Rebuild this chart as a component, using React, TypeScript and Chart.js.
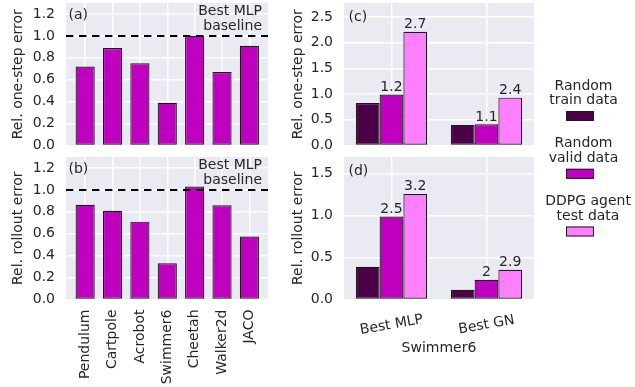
import React, { useEffect, useRef } from "react";
import { Chart, registerables } from "chart.js";
Chart.register(...registerables);

const FONT = "'DejaVu Sans', sans-serif";
const TEXT = "#262626";
const FS = 14;

// ---- data ----
const envs = ["Pendulum", "Cartpole", "Acrobot", "Swimmer6", "Cheetah", "Walker2d", "JACO"];
const oneStepRel = [0.72, 0.89, 0.75, 0.39, 1.0, 0.67, 0.91];
const rolloutRel = [0.865, 0.81, 0.71, 0.33, 1.03, 0.86, 0.575];
const baselineValue = 1.0;
const baselineText = ["Best MLP", "baseline"];

const models = ["Best MLP", "Best GN"];
const seriesNames = [["Random", "train data"], ["Random", "valid data"], ["DDPG agent", "test data"]];
const seriesColors = ["#4c0047", "#bf00bf", "#ff80ff"];
const envColor = "#bf00bf";
const edgeColor = "#1a1a1a";

const swimOneStepTrain = [0.825, 0.4];
const swimOneStepValid = [0.99, 0.415];
const swimOneStepTest = [2.21, 0.93];
const swimOneStepAnnot = [["", ""], ["1.2", "1.1"], ["2.7", "2.4"]];

const swimRolloutTrain = [0.39, 0.115];
const swimRolloutValid = [0.99, 0.235];
const swimRolloutTest = [1.26, 0.355];
const swimRolloutAnnot = [["", ""], ["2.5", "2"], ["3.2", "2.9"]];

// ---- helpers ----
const font = () => ({ family: FONT, size: FS });

const bgPlugin = {
  id: "bg",
  beforeDraw(chart: any) {
    const { ctx, chartArea: a } = chart;
    ctx.save();
    ctx.fillStyle = "#EAEAF2";
    ctx.fillRect(a.left, a.top, a.right - a.left, a.bottom - a.top);
    ctx.restore();
  },
};

function yScale(max: number, step: number, title: string, yWidth: number) {
  return {
    type: "linear",
    min: 0,
    max,
    border: { display: false },
    grid: { color: "#ffffff", lineWidth: 1.5, drawTicks: false },
    ticks: {
      stepSize: step,
      includeBounds: false,
      padding: 11,
      color: TEXT,
      font: font(),
      callback: (v: any) => Number(v).toFixed(1),
    },
    title: {
      display: true,
      text: title,
      color: TEXT,
      font: font(),
      padding: { top: 9.6, bottom: 0 },
    },
    afterFit: (s: any) => {
      s.width = yWidth;
      s.paddingTop = 0;
      s.paddingBottom = 0;
      s.paddingLeft = 0;
      s.paddingRight = 0;
    },
  };
}

function envAnnot(label: string) {
  return {
    id: "envAnnot",
    afterDatasetsDraw(chart: any) {
      const { ctx, chartArea: a, scales } = chart;
      const y = scales.y.getPixelForValue(baselineValue);
      ctx.save();
      ctx.strokeStyle = "#000";
      ctx.lineWidth = 2;
      ctx.setLineDash([7.4, 5.6]);
      ctx.beginPath();
      ctx.moveTo(a.left, y);
      ctx.lineTo(a.right, y);
      ctx.stroke();
      ctx.setLineDash([]);
      ctx.fillStyle = TEXT;
      ctx.font = `${FS}px ${FONT}`;
      ctx.textBaseline = "alphabetic";
      ctx.textAlign = "right";
      ctx.fillText(baselineText[0], a.right - 6, a.top + 11.5);
      ctx.fillText(baselineText[1], a.right - 6, a.top + 27);
      ctx.textAlign = "left";
      ctx.fillText(label, a.left + 2.5, a.top + 15.5);
      ctx.restore();
    },
  };
}

function makeEnvChart(canvas: HTMLCanvasElement, values: number[], yTitle: string, label: string, showX: boolean, pad: any) {
  const xHeight = showX ? 387 - 299.5 - pad.bottom : 0;
  return new Chart(canvas, {
    type: "bar",
    data: {
      datasets: [
        {
          data: values.map((v, i) => ({ x: i, y: v })),
          backgroundColor: envColor,
          borderColor: edgeColor,
          borderWidth: 1.2,
          borderSkipped: false,
          barPercentage: 0.7,
          categoryPercentage: 1,
        } as any,
      ],
    },
    options: {
      responsive: false,
      animation: false,
      layout: { padding: pad },
      plugins: { legend: { display: false }, tooltip: { enabled: false } },
      scales: {
        x: {
          type: "linear",
          min: -0.7,
          max: 6.68,
          offset: false,
          border: { display: false },
          grid: { color: "#ffffff", lineWidth: 1.5, drawTicks: false, offset: false },
          afterBuildTicks: (s: any) => {
            s.ticks = envs.map((_, i) => ({ value: i }));
          },
          ticks: {
            display: showX,
            autoSkip: false,
            minRotation: 90,
            maxRotation: 90,
            padding: 10,
            color: TEXT,
            font: font(),
            callback: (v: any) => envs[Math.round(Number(v))],
          },
          afterFit: (s: any) => {
            s.height = xHeight;
            s.paddingLeft = 0;
            s.paddingRight = 0;
            s.paddingTop = 0;
            s.paddingBottom = 0;
          },
        },
        y: yScale(1.3, 0.2, yTitle, 66),
      } as any,
    },
    plugins: [bgPlugin, envAnnot(label)],
  } as any);
}

function valueLabels(annots: string[][]) {
  return {
    id: "valueLabels",
    afterDatasetsDraw(chart: any) {
      const { ctx } = chart;
      ctx.save();
      ctx.fillStyle = TEXT;
      ctx.font = `${FS}px ${FONT}`;
      ctx.textAlign = "center";
      ctx.textBaseline = "alphabetic";
      chart.data.datasets.forEach((_: any, di: number) => {
        const meta = chart.getDatasetMeta(di);
        meta.data.forEach((el: any, j: number) => {
          const t = annots[di][j];
          if (t) ctx.fillText(t, el.x, el.y - 3.5);
        });
      });
      ctx.restore();
    },
  };
}

function panelLabel(label: string) {
  return {
    id: "panelLabel",
    afterDatasetsDraw(chart: any) {
      const { ctx, chartArea: a } = chart;
      ctx.save();
      ctx.fillStyle = TEXT;
      ctx.font = `${FS}px ${FONT}`;
      ctx.textAlign = "left";
      ctx.textBaseline = "alphabetic";
      ctx.fillText(label, a.left + 4.5, a.top + 18);
      ctx.restore();
    },
  };
}

const legendPlugin = {
  id: "sideLegend",
  afterDraw(chart: any) {
    const { ctx } = chart;
    const tops = [89.5, 147.3, 205];
    const centers = [583.5, 583.5, 588];
    ctx.save();
    ctx.font = `${FS}px ${FONT}`;
    ctx.textAlign = "center";
    ctx.textBaseline = "alphabetic";
    seriesNames.forEach((lines, i) => {
      ctx.fillStyle = TEXT;
      ctx.fillText(lines[0], centers[i], tops[i]);
      ctx.fillText(lines[1], centers[i], tops[i] + 14.8);
      const sy = tops[i] + 21.5;
      ctx.fillStyle = chart.data.datasets[i].backgroundColor;
      ctx.fillRect(566, sy, 28, 10);
      ctx.strokeStyle = edgeColor;
      ctx.lineWidth = 1;
      ctx.strokeRect(566.5, sy + 0.5, 27, 9);
    });
    ctx.restore();
  },
};

const rotLabels = {
  id: "rotLabels",
  afterDraw(chart: any) {
    const { ctx, scales } = chart;
    const xs = scales.x;
    ctx.save();
    ctx.fillStyle = TEXT;
    ctx.font = `${FS}px ${FONT}`;
    ctx.textAlign = "center";
    ctx.textBaseline = "middle";
    models.forEach((m, i) => {
      const x = xs.getPixelForTick(i);
      ctx.save();
      ctx.translate(x, xs.top + 25.5);
      ctx.rotate((-10 * Math.PI) / 180);
      ctx.fillText(m, 0, 0);
      ctx.restore();
    });
    ctx.restore();
  },
};

function makeSwimChart(
  canvas: HTMLCanvasElement,
  series: number[][],
  annots: string[][],
  yMax: number,
  yTitle: string,
  label: string,
  bottom: boolean,
  pad: any
) {
  const xHeight = bottom ? 387 - 299.5 - pad.bottom : 0;
  const extra: any[] = [bgPlugin, valueLabels(annots), panelLabel(label)];
  if (bottom) extra.push(rotLabels);
  else extra.push(legendPlugin);
  return new Chart(canvas, {
    type: "bar",
    data: {
      labels: models,
      datasets: series.map((d, i) => ({
        label: seriesNames[i].join(" "),
        data: d,
        backgroundColor: seriesColors[i],
        borderColor: edgeColor,
        borderWidth: 1.2,
        borderSkipped: false,
        barPercentage: 1,
        categoryPercentage: 0.75,
      })),
    },
    options: {
      responsive: false,
      animation: false,
      layout: { padding: pad },
      plugins: { legend: { display: false }, tooltip: { enabled: false } },
      scales: {
        x: {
          type: "category",
          offset: true,
          border: { display: false },
          grid: { color: "#ffffff", lineWidth: 1.5, drawTicks: false, offset: false },
          ticks: { display: false },
          title: {
            display: bottom,
            text: "Swimmer6",
            color: TEXT,
            font: font(),
            padding: { top: 0, bottom: 30.6 },
          },
          afterFit: (s: any) => {
            s.height = xHeight;
            s.paddingLeft = 0;
            s.paddingRight = 0;
            s.paddingTop = 0;
            s.paddingBottom = 0;
          },
        },
        y: yScale(yMax, 0.5, yTitle, 64),
      } as any,
    },
    plugins: extra,
  } as any);
}

function Layer({ make }: { make: (c: HTMLCanvasElement) => Chart }) {
  const ref = useRef<HTMLCanvasElement | null>(null);
  useEffect(() => {
    const chart = make(ref.current as HTMLCanvasElement);
    return () => chart.destroy();
  }, []);
  return (
    <canvas
      ref={ref}
      width={635}
      height={387}
      style={{ position: "absolute", left: 0, top: 0, width: 635, height: 387 }}
    />
  );
}

export default function App() {
  return (
    <div style={{ position: "absolute", left: 0, top: 0, width: 635, height: 387, background: "#ffffff", overflow: "hidden" }}>
      <Layer
        make={(c) =>
          makeEnvChart(c, oneStepRel, "Rel. one-step error", "(a)", false, { left: 0, top: 3, right: 367, bottom: 241.5 })
        }
      />
      <Layer
        make={(c) =>
          makeEnvChart(c, rolloutRel, "Rel. rollout error", "(b)", true, { left: 0, top: 157, right: 367, bottom: 0 })
        }
      />
      <Layer
        make={(c) =>
          makeSwimChart(
            c,
            [swimOneStepTrain, swimOneStepValid, swimOneStepTest],
            swimOneStepAnnot,
            2.77,
            "Rel. one-step error",
            "(c)",
            false,
            { left: 280, top: 3, right: 101, bottom: 241.5 }
          )
        }
      />
      <Layer
        make={(c) =>
          makeSwimChart(
            c,
            [swimRolloutTrain, swimRolloutValid, swimRolloutTest],
            swimRolloutAnnot,
            1.7,
            "Rel. rollout error",
            "(d)",
            true,
            { left: 280, top: 157, right: 101, bottom: 0 }
          )
        }
      />
    </div>
  );
}
